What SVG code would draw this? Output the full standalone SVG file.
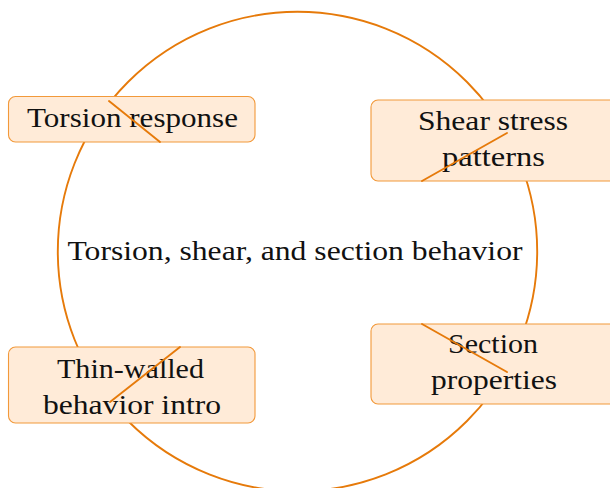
<svg xmlns="http://www.w3.org/2000/svg" width="610" height="488" viewBox="0 0 610 488">
<style>
.ring{fill:none;stroke:#E67A0A;stroke-width:1.9}
.seg{fill:none;stroke:#E67A0A;stroke-width:1.9;stroke-linecap:round}
.box{fill:#FFEBD8;stroke:#F2993A;stroke-width:1.1}
.t{font-family:"Liberation Serif","Times New Roman",serif;font-size:28px;fill:#111111;text-anchor:middle}
</style>
<rect width="610" height="488" fill="#ffffff"/>
<g id="connectors">
<circle class="ring" cx="297.5" cy="251.5" r="239.7"/>
</g>
<g id="center">
<text class="t" x="295" y="260" textLength="455" lengthAdjust="spacingAndGlyphs">Torsion, shear, and section behavior</text>
</g>
<g id="torsion-response">
<rect class="box" x="8.5" y="96.5" width="246.5" height="45.5" rx="7"/>
<text class="t" x="132.5" y="127" textLength="211" lengthAdjust="spacingAndGlyphs">Torsion response</text>
</g>
<g id="shear-stress-patterns">
<rect class="box" x="371" y="100" width="245" height="81" rx="7"/>
<text class="t" x="493" y="129.5" textLength="150" lengthAdjust="spacingAndGlyphs">Shear stress</text>
<text class="t" x="493.5" y="165.5" textLength="103" lengthAdjust="spacingAndGlyphs">patterns</text>
</g>
<g id="section-properties">
<rect class="box" x="371" y="324" width="245" height="80" rx="7"/>
<text class="t" x="493" y="353" textLength="90" lengthAdjust="spacingAndGlyphs">Section</text>
<text class="t" x="494" y="389" textLength="126" lengthAdjust="spacingAndGlyphs">properties</text>
</g>
<g id="thin-walled-behavior-intro">
<rect class="box" x="8.5" y="347" width="246.5" height="76" rx="7"/>
<text class="t" x="130.5" y="378" textLength="147" lengthAdjust="spacingAndGlyphs">Thin-walled</text>
<text class="t" x="132" y="413.5" textLength="178" lengthAdjust="spacingAndGlyphs">behavior intro</text>
</g>
<g id="connector-segments">
<line class="seg" x1="109" y1="101" x2="160" y2="142"/>
<line class="seg" x1="422" y1="181" x2="507" y2="133"/>
<line class="seg" x1="422" y1="324" x2="507" y2="372"/>
<line class="seg" x1="110" y1="402" x2="180" y2="347"/>
</g>
</svg>
